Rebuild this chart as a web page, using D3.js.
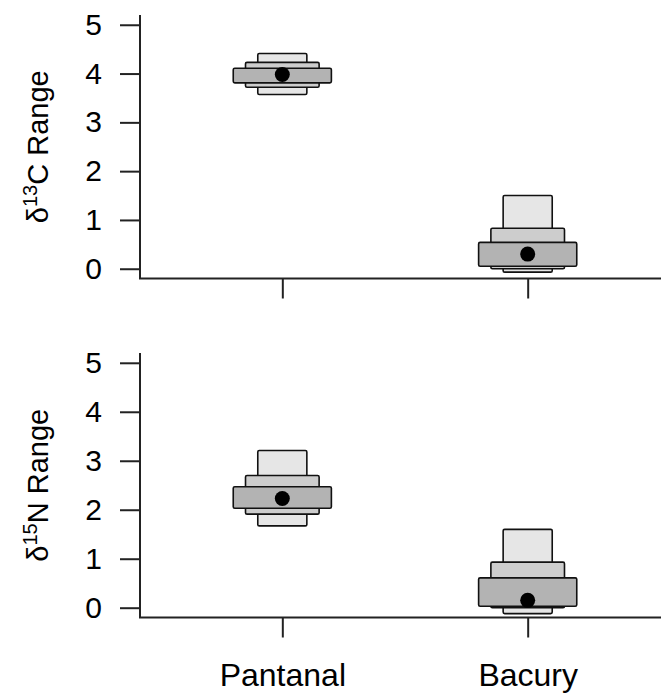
<!DOCTYPE html>
<html>
<head>
    <title>Isotope range</title>
    <style>
        body { margin: 0; background: white; }
        text { font-family: "Liberation Sans", Arial, sans-serif; fill: #000; }
    </style>
    <script src="https://cdn.jsdelivr.net/npm/d3@7"></script>
</head>
<body>
    <div id="chart"></div>
    <script>
        // groups on the x axis
        const groups = ["Pantanal", "Bacury"];
        const yTicks = [0, 1, 2, 3, 4, 5];

        // delta 13C credible intervals [low, high] per group
        const c13_95 = [[3.57, 4.41], [-0.07, 1.50]];
        const c13_75 = [[3.72, 4.23], [0.00, 0.83]];
        const c13_50 = [[3.81, 4.11], [0.05, 0.54]];
        const c13_mode = [3.98, 0.30];

        // delta 15N credible intervals
        const n15_95 = [[1.67, 3.21], [-0.12, 1.60]];
        const n15_75 = [[1.91, 2.70], [0.00, 0.93]];
        const n15_50 = [[2.03, 2.47], [0.03, 0.61]];
        const n15_mode = [2.23, 0.15];

        const W = 661, H = 695;
        const svg = d3.select("#chart").append("svg")
            .attr("width", W).attr("height", H);

        const x = d3.scaleLinear().domain([0.42, 2.58]).range([140, 670]);

        function panel(top, bottom, label, sup, i95, i75, i50, mode, showNames) {
            const y = d3.scaleLinear().domain([-0.2, 5.2]).range([bottom, top]);
            const g = svg.append("g");

            // interval boxes: narrow light one behind, wide dark one on top
            const layers = [
                { d: i95, half: 0.1, fill: "#e6e6e6" },
                { d: i75, half: 0.15, fill: "#cdcdcd" },
                { d: i50, half: 0.2, fill: "#b3b3b3" }
            ];
            layers.forEach(l => {
                g.append("g").selectAll("rect")
                    .data(l.d)
                    .join("rect")
                    .attr("x", (d, i) => x(i + 1 - l.half))
                    .attr("width", x(1 + l.half) - x(1 - l.half))
                    .attr("y", d => y(d[1]))
                    .attr("height", d => y(d[0]) - y(d[1]))
                    .attr("rx", 1.5)
                    .attr("fill", l.fill)
                    .attr("stroke", "#111")
                    .attr("stroke-width", 1.6);
            });

            g.append("g").selectAll("circle")
                .data(mode)
                .join("circle")
                .attr("cx", (d, i) => x(i + 1))
                .attr("cy", d => y(d))
                .attr("r", 7.5)
                .attr("fill", "#000");

            // y axis
            const ya = g.append("g")
                .attr("transform", `translate(${x.range()[0]},0)`)
                .call(d3.axisLeft(y).tickValues(yTicks).tickSize(20).tickPadding(18).tickFormat(d3.format("d")));
            ya.select(".domain").remove();
            ya.selectAll("line").attr("stroke", "#222").attr("stroke-width", 2);
            ya.selectAll("text").attr("font-size", 30).attr("font-family", "Liberation Sans, Arial, sans-serif");

            // x axis
            const xa = g.append("g")
                .attr("transform", `translate(0,${bottom})`)
                .call(d3.axisBottom(x).tickValues([1, 2]).tickSize(20).tickPadding(26)
                    .tickFormat(d => showNames ? groups[d - 1] : ""));
            xa.select(".domain").remove();
            xa.selectAll("line").attr("stroke", "#222").attr("stroke-width", 2);
            xa.selectAll("text").attr("font-size", 32).attr("font-family", "Liberation Sans, Arial, sans-serif");

            // L-shaped box
            g.append("path")
                .attr("d", `M${x.range()[0]},${top}V${bottom}H${W + 10}`)
                .attr("fill", "none")
                .attr("stroke", "#222")
                .attr("stroke-width", 2);

            // axis title with superscript
            const t = g.append("text")
                .attr("transform", `translate(48,${(top + bottom) / 2}) rotate(-90)`)
                .attr("text-anchor", "middle")
                .attr("font-size", 29);
            t.append("tspan").text("\u03b4");
            t.append("tspan").attr("font-size", 20).attr("dy", -11).text(sup);
            t.append("tspan").attr("dy", 11).text(label);
        }

        panel(15, 278.5, "C Range", "13", c13_95, c13_75, c13_50, c13_mode, false);
        panel(353, 617.5, "N Range", "15", n15_95, n15_75, n15_50, n15_mode, true);
    </script>
</body>
</html>
